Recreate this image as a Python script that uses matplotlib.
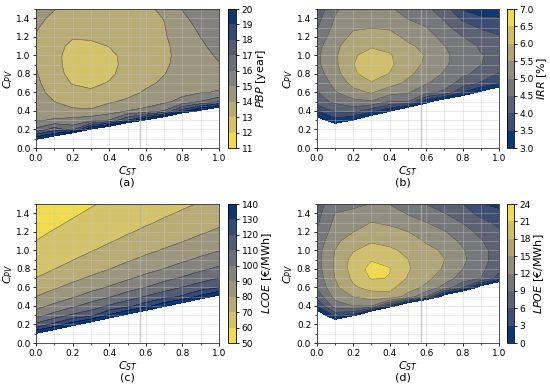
import matplotlib
matplotlib.use('Agg')
import matplotlib.pyplot as plt
from matplotlib.ticker import MultipleLocator, FormatStrFormatter
import numpy as np

# grid of the maps
c_st = [0.0, 0.1, 0.2, 0.3, 0.4, 0.5, 0.6, 0.7, 0.8, 0.9, 1.0]
c_pv = [0.0, 0.1, 0.2, 0.3, 0.4, 0.5, 0.6, 0.7, 0.8, 0.9, 1.0, 1.1, 1.2, 1.3, 1.4, 1.5]

# values, one list per C_ST column (C_PV from 0.0 to 1.5)
pbp_by_cst = [
    [24.7, 19.7, 16.2, 14.9, 14.7, 14.5, 14.35, 14.2, 14.08, 13.97, 13.85, 13.85, 13.93, 14.1, 14.3, 14.5],
    [26, 21.1, 17.5, 15.1, 14.5, 14.0, 13.65, 13.45, 13.3, 13.22, 13.2, 13.22, 13.3, 13.5, 13.75, 14.05],
    [35, 26, 16.6, 15.3, 14.2, 13.6, 13.3, 12.95, 12.75, 12.7, 12.72, 12.85, 13.05, 13.3, 13.5, 13.6],
    [40, 30, 20.2, 15.6, 14.15, 13.5, 13.1, 12.85, 12.7, 12.65, 12.7, 12.85, 13.1, 13.3, 13.45, 13.6],
    [40, 32, 22.0, 16.05, 14.5, 13.9, 13.4, 13.05, 12.85, 12.8, 12.85, 13.02, 13.25, 13.45, 13.6, 13.75],
    [45, 35, 26, 18.0, 15.02, 14.15, 13.75, 13.45, 13.3, 13.2, 13.2, 13.28, 13.4, 13.55, 13.7, 13.85],
    [45, 38, 30, 20.2, 15.3, 14.5, 14.1, 13.85, 13.7, 13.62, 13.58, 13.6, 13.65, 13.72, 13.8, 13.9],
    [50, 40, 32, 22.25, 16.05, 14.8, 14.35, 14.12, 13.98, 13.9, 13.87, 13.88, 13.93, 13.96, 14.02, 14.1],
    [50, 42, 34, 26, 18.5, 15.3, 14.75, 14.45, 14.3, 14.22, 14.2, 14.25, 14.35, 14.55, 14.8, 15.04],
    [50, 44, 36, 28, 20.4, 16.05, 14.95, 14.7, 14.6, 14.58, 14.65, 14.82, 15.02, 15.22, 15.4, 15.6],
    [50, 45, 38, 32, 22.1, 16.9, 15.05, 14.85, 14.8, 14.93, 15.15, 15.4, 15.55, 15.7, 15.8, 15.9],
]

irr_by_cst = [
    [1.0, 1.5, 2.0, 2.7, 3.45, 4.3, 4.45, 4.62, 4.78, 4.88, 4.9, 4.82, 4.65, 4.45, 4.3, 4.15],
    [1.0, 1.6, 2.4, 3.3, 4.1, 4.6, 4.95, 5.15, 5.3, 5.4, 5.42, 5.38, 5.27, 5.15, 5.03, 4.92],
    [1.0, 1.5, 2.2, 2.98, 4.2, 4.85, 5.35, 5.65, 5.92, 5.98, 5.94, 5.8, 5.6, 5.45, 5.35, 5.25],
    [1.0, 1.5, 2.0, 2.2, 3.7, 4.95, 5.55, 5.95, 6.25, 6.3, 6.2, 5.95, 5.75, 5.48, 5.38, 5.28],
    [1.0, 1.3, 1.7, 2.2, 3.05, 4.45, 5.2, 5.7, 5.98, 6.1, 6.05, 5.85, 5.65, 5.45, 5.25, 5.05],
    [1.0, 1.2, 1.5, 1.8, 2.0, 4.52, 5.05, 5.4, 5.6, 5.7, 5.68, 5.58, 5.4, 5.2, 4.98, 4.85],
    [1.0, 1.1, 1.3, 1.6, 2.0, 3.2, 4.65, 5.05, 5.3, 5.42, 5.48, 5.38, 5.2, 5.02, 4.8, 4.6],
    [1.0, 1.0, 1.2, 1.4, 1.7, 2.4, 4.4, 4.75, 4.95, 5.08, 5.1, 5.02, 4.85, 4.65, 4.45, 4.25],
    [1.0, 1.0, 1.1, 1.3, 1.5, 2.0, 3.52, 4.3, 4.6, 4.75, 4.78, 4.7, 4.52, 4.25, 3.9, 3.45],
    [1.0, 1.0, 1.0, 1.1, 1.3, 1.6, 2.85, 3.95, 4.35, 4.51, 4.52, 4.45, 4.25, 3.95, 3.6, 3.2],
    [1.0, 1.0, 1.0, 1.0, 1.1, 1.3, 2.2, 3.55, 3.95, 4.3, 4.42, 4.35, 4.05, 3.8, 3.55, 3.15],
]

lcoe_by_cst = [
    [160, 141, 112.6, 96.2, 86.9, 80.1, 75.1, 70.1, 67.6, 65.1, 62.6, 60.1, 58.1, 56.1, 54.1, 52.1],
    [170, 154, 122.8, 103.6, 92.0, 84.8, 78.8, 74.3, 69.9, 67.6, 65.2, 62.9, 60.6, 58.4, 56.3, 54.2],
    [180, 165, 136.3, 111.7, 97.9, 89.0, 82.9, 77.8, 73.6, 69.7, 67.5, 65.3, 63.1, 61.0, 58.8, 56.5],
    [190, 175, 149, 116.7, 104.4, 94.1, 86.9, 81.2, 76.9, 73.0, 69.5, 67.5, 65.4, 63.4, 61.3, 59.2],
    [200, 185, 160.5, 131.2, 111.0, 99.1, 90.8, 85.1, 79.8, 76.1, 72.4, 69.3, 67.4, 65.4, 63.6, 61.6],
    [210, 195, 170, 143.2, 117.1, 105.1, 95.7, 88.6, 83.5, 78.9, 75.4, 72.0, 69.2, 67.4, 65.6, 63.7],
    [220, 205, 185, 155.3, 125.9, 110.6, 100.1, 92.7, 86.9, 82.0, 78.1, 74.9, 71.5, 69.1, 67.3, 65.6],
    [230, 215, 195, 170, 138.2, 115.9, 105.5, 97.0, 90.1, 85.3, 80.7, 77.4, 74.2, 71.1, 69.0, 67.3],
    [240, 225, 205, 180, 150, 121.4, 110.2, 101.1, 94.2, 88.4, 83.9, 79.7, 76.7, 73.7, 70.8, 68.8],
    [250, 235, 215, 190, 164, 132.8, 114.9, 105.8, 98.0, 91.7, 86.9, 82.6, 78.9, 76.1, 73.3, 70.5],
    [260, 245, 225, 200, 175, 144.6, 119.1, 110.1, 101.9, 95.4, 89.6, 85.5, 81.5, 78.3, 75.6, 72.9],
]

lpoe_by_cst = [
    [-20, -15, -10, -4, 3.05, 7.0, 9.4, 10.2, 10.7, 10.85, 10.7, 10.1, 9.2, 8.5, 7.9, 7.3],
    [-20, -12, -5, 4.0, 10.5, 13.0, 14.3, 15.02, 15.35, 15.35, 15.02, 14.3, 13.5, 12.7, 12.02, 11.3],
    [-60, -50, -40, 2.1, 12.05, 15.1, 17.6, 18.6, 19.2, 19.0, 17.8, 16.6, 14.95, 13.9, 12.6, 11.4],
    [-60, -50, -40, -10, 12.05, 16.5, 19.0, 21.3, 22.0, 20.8, 19.2, 17.7, 16.2, 15.05, 13.5, 12.1],
    [-60, -50, -40, -25, 3.5, 17.0, 18.8, 20.9, 21.1, 20.4, 18.5, 17.2, 15.8, 14.6, 13.3, 11.9],
    [-60, -50, -40, -30, -8, 14.0, 16.3, 17.8, 18.3, 18.05, 17.4, 16.2, 15.05, 13.1, 11.8, 10.6],
    [-60, -50, -40, -30, -20, 9.05, 14.4, 15.8, 16.4, 16.3, 15.6, 14.8, 13.5, 12.05, 10.4, 8.95],
    [-60, -50, -40, -30, -20, -3, 11.0, 13.5, 14.7, 15.05, 14.7, 13.6, 12.2, 10.6, 9.05, 7.4],
    [-60, -50, -40, -30, -20, -10, 6.5, 10.8, 12.05, 12.6, 12.3, 11.4, 10.2, 8.9, 7.5, 6.1],
    [-60, -50, -40, -30, -20, -15, -2, 9.05, 9.8, 10.1, 9.9, 9.3, 8.3, 7.0, 5.0, 3.1],
    [-60, -50, -40, -30, -20, -15, -8, 5.0, 6.8, 7.6, 7.7, 7.2, 6.4, 5.3, 3.8, 2.3],
]

pbp_levels = [11, 12, 13, 14, 15, 16, 17, 18, 19, 20]
irr_levels = [3.0, 3.5, 4.0, 4.5, 5.0, 5.5, 6.0, 6.5, 7.0]
lcoe_levels = [50, 60, 70, 80, 90, 100, 110, 120, 130, 140]
lpoe_levels = [0, 3, 6, 9, 12, 15, 18, 21, 24]

c_st_mark = 0.57

fig = plt.figure(figsize=(5.5, 3.9), dpi=100)


def draw(ax_pos, cb_pos, z_cols, levels, cmap, label, fmt, tag, tag_pos):
    ax = fig.add_axes(ax_pos)
    cax = fig.add_axes(cb_pos)
    Z = np.array(z_cols).T
    cf = ax.contourf(c_st, c_pv, Z, levels=levels, cmap=cmap, alpha=0.95)
    ax.contour(c_st, c_pv, Z, levels=levels, colors='k', linewidths=0.4, alpha=0.4)
    ax.set_xlim(0, 1)
    ax.set_ylim(0, 1.5)
    ax.xaxis.set_major_locator(MultipleLocator(0.2))
    ax.xaxis.set_minor_locator(MultipleLocator(0.1))
    ax.yaxis.set_major_locator(MultipleLocator(0.2))
    ax.yaxis.set_minor_locator(MultipleLocator(0.1))
    ax.xaxis.set_major_formatter(FormatStrFormatter('%.1f'))
    ax.yaxis.set_major_formatter(FormatStrFormatter('%.1f'))
    ax.grid(which='both', color='0.78', lw=0.4, alpha=0.65)
    ax.axvline(c_st_mark, color='0.7', lw=1.0, alpha=0.7)
    ax.tick_params(labelsize=6.5, length=2.5, width=0.6, pad=1.5)
    ax.tick_params(which='minor', length=1.5, width=0.5)
    for s in ax.spines.values():
        s.set_linewidth(0.6)
        s.set_color('0.2')
    ax.set_xlabel('$C_{ST}$', fontsize=8, labelpad=1)
    ax.set_ylabel('$C_{PV}$', fontsize=8, labelpad=1)

    cb = fig.colorbar(cf, cax=cax, ticks=levels, format=fmt)
    cb.ax.tick_params(labelsize=6.5, length=2.5, width=0.6, pad=1.5)
    cb.outline.set_linewidth(0.6)
    cb.set_label(label, fontsize=8, labelpad=1)
    fig.text(tag_pos[0], tag_pos[1], tag, ha='center', va='center', fontsize=8)


draw([0.0655, 0.6205, 0.3327, 0.3564], [0.4145, 0.6205, 0.0145, 0.3564],
     pbp_by_cst, pbp_levels, 'cividis_r', '$PBP$ [year]', '%d', '(a)', (0.231, 0.531))
draw([0.5758, 0.6205, 0.3315, 0.3564], [0.9218, 0.6205, 0.0127, 0.3564],
     irr_by_cst, irr_levels, 'cividis', '$IRR$ [%]', '%.1f', '(b)', (0.732, 0.531))
draw([0.0655, 0.1205, 0.3327, 0.3564], [0.4145, 0.1205, 0.0145, 0.3564],
     lcoe_by_cst, lcoe_levels, 'cividis_r', '$LCOE$ [€/MWh]', '%d', '(c)', (0.231, 0.031))
draw([0.5758, 0.1205, 0.3315, 0.3564], [0.9218, 0.1205, 0.0127, 0.3564],
     lpoe_by_cst, lpoe_levels, 'cividis', '$LPOE$ [€/MWh]', '%d', '(d)', (0.732, 0.031))

fig.savefig('out.png', dpi=100)
